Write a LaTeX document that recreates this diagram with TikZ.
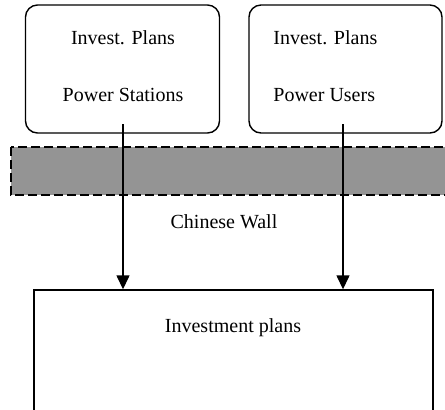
\documentclass[tikz,border=0pt]{standalone}
\usepackage{fontspec}
\setmainfont{Liberation Serif}
\usetikzlibrary{arrows.meta}

\tikzset{
  plan/.style={draw,line width=.7pt,rounded corners=6pt,minimum width=97pt,minimum height=64pt},
  master/.style={draw,line width=.7pt,fill=white,minimum width=199.5pt,minimum height=62.5pt},
  label/.style={font=\fontsize{10}{12}\selectfont,inner sep=0pt},
  flow/.style={line width=.7pt,-{Triangle[width=6.5pt,length=7pt]}}
}

\begin{document}
\begin{tikzpicture}[x=.5pt,y=-.5pt]
				\useasboundingbox (0,0) rectangle (445,409);
				
				% the wall
				\draw[fill=black!42,line width=.8pt,dash pattern=on 4.5pt off 2pt] (11,147) rectangle (452,195);
				\node[label] (wall) at (224,222) {Chinese Wall};
				
				% the two planning boxes
				\node[plan] (stations) at (122.5,69) {};
				\node[label] (st1) at (123,38) {Invest. Plans};
				\node[label] (st2) at (123,95) {Power Stations};
				
				\node[plan,minimum width=96.5pt] (users) at (345.5,69) {};
				\node[label,anchor=west] (us1) at (273,38) {Invest. Plans};
				\node[label,anchor=west] (us2) at (273,95) {Power Users};
				
				% joint plan below
				\node[master] (joint) at (233.5,352.5) {};
				\node[label] (jl) at (233,328) {Investment plans};
				
				\coordinate (sfoot) at (123,124);
				\coordinate (ufoot) at (343,124);
				\draw[flow] (sfoot) -- (sfoot |- joint.north);
				\draw[flow] (ufoot) -- (ufoot |- joint.north);
			\end{tikzpicture}
\end{document}
